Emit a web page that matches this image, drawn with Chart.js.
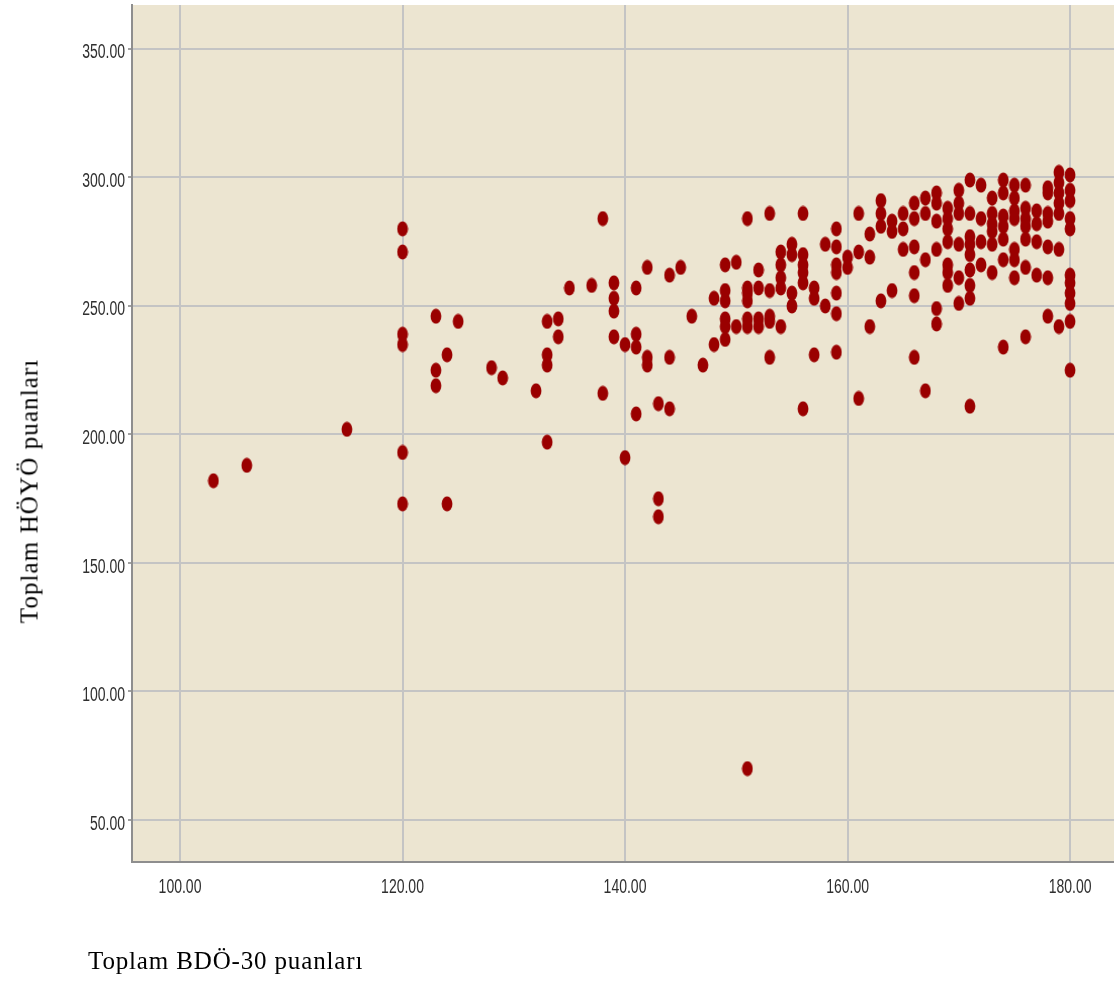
<!DOCTYPE html>
<html>
<head>
<meta charset="utf-8">
<script src="https://cdn.jsdelivr.net/npm/chart.js@4.4.1/dist/chart.umd.min.js"></script>
<style>
  html, body { margin:0; padding:0; background:#ffffff; overflow:hidden; }
  #wrap { position:relative; width:1114px; height:984px; overflow:hidden; }
  canvas { position:absolute; left:0; top:0; }
  .ttl { position:absolute; font-family:"Liberation Serif","Times New Roman",serif; font-size:25px; line-height:25px; color:#000; white-space:nowrap; }
  #xTitle { left:88px; top:948px; letter-spacing:0.85px; }
  #yTitle { left:29px; top:491px; letter-spacing:1.1px; transform:translate(-50%,-50%) rotate(-90deg); }
</style>
</head>
<body>
<div id="wrap">
  <canvas id="c" width="1114" height="984"></canvas>
  <div class="ttl" id="xTitle">Toplam BDÖ-30 puanları</div>
  <div class="ttl" id="yTitle">Toplam HÖYÖ puanları</div>
</div>
<script>
// X: Toplam BDÖ-30 puanları, Y: Toplam HÖYÖ puanları
const xScores = [
  103, 106, 115,
  120,120,120,120,120,120,
  123,123,123, 124,124, 125, 128, 129, 132,
  133,133,133,133, 134,134, 135, 137, 138,138,
  139,139,139,139, 140,140, 141,141,141,141,
  142,142,142, 143,143,143, 144,144,144, 145, 146, 147, 148,148,
  149,149,149,149,149,149, 150,150,
  151,151,151,151,151,151,151,
  152,152,152,152, 153,153,153,153,153,
  154,154,154,154,154, 155,155,155,155,
  156,156,156,156,156,156, 157,157,157, 158,158,
  159,159,159,159,159,159,159, 160,160, 161,161,161, 162,162,162,
  163,163,163,163, 164,164,164, 165,165,165,
  166,166,166,166,166,166, 167,167,167,167,
  168,168,168,168,168,168, 169,169,169,169,169,169,169,
  170,170,170,170,170,170,
  171,171,171,171,171,171,171,171,171,
  172,172,172,172, 173,173,173,173,173,173,
  174,174,174,174,174,174,174, 175,175,175,175,175,175,175,
  176,176,176,176,176,176,176, 177,177,177,177,
  178,178,178,178,178,178,178, 179,179,179,179,179,179,179,
  180,180,180,180,180,180,180,180,180,180,180
];
const yScores = [
  182, 188, 202,
  280,271,239,235,193,173,
  246,225,219, 231,173, 244, 226, 222, 217,
  244,231,227,197, 245,238, 257, 258, 284,216,
  259,253,248,238, 235,191, 257,239,234,208,
  265,230,227, 212,175,168, 262,230,210, 265, 246, 227, 253,235,
  266,256,252,245,242,237, 267,242,
  284,257,255,252,245,242,70,
  264,257,245,242, 286,256,246,244,230,
  271,266,261,257,242, 274,270,255,250,
  286,270,266,263,259,210, 257,253,231, 274,250,
  280,273,266,263,255,247,232, 269,265, 286,271,214, 278,269,242,
  291,286,281,252, 283,279,256, 286,280,272,
  290,284,273,263,254,230, 292,286,268,217,
  294,290,283,272,249,243, 288,284,280,275,266,263,258,
  295,290,286,274,261,251,
  299,286,277,274,270,264,258,253,211,
  297,284,275,266, 292,286,282,279,274,263,
  299,294,285,281,276,268,234, 297,292,287,284,272,268,261,
  297,288,284,281,276,265,238, 287,282,275,262,
  296,294,286,283,273,261,246, 302,298,294,290,286,272,242,
  301,295,291,284,280,262,259,255,251,244,225
];
const xTicks = [100, 120, 140, 160, 180];
const yTicks = [50, 100, 150, 200, 250, 300, 350];

// elliptical marker
const dot = document.createElement('canvas');
dot.width = 12; dot.height = 16;
(function(){
  const g = dot.getContext('2d');
  g.fillStyle = '#9a0000';
  g.beginPath();
  g.ellipse(6, 8, 5.4, 7.6, 0, 0, Math.PI * 2);
  g.fill();
})();

const bgPlugin = {
  id: 'bg',
  beforeDraw(chart) {
    const a = chart.chartArea, g = chart.ctx;
    g.save();
    g.fillStyle = '#ece5d1';
    g.fillRect(a.left, a.top, a.right - a.left, a.bottom - a.top);
    g.restore();
  }
};

// narrow (condensed) tick labels, positioned from the library's scales
const narrowTicks = {
  id: 'narrowTicks',
  afterDraw(chart) {
    const g = chart.ctx, xs = chart.scales.x, ys = chart.scales.y;
    g.save();
    g.font = '20px "Liberation Sans", Arial, sans-serif';
    g.fillStyle = '#2f2f2f';
    g.textBaseline = 'middle';
    xs.ticks.forEach(t => {
      const px = xs.getPixelForValue(t.value);
      g.save();
      g.translate(px, xs.top + 25.5);
      g.scale(0.70, 1);
      g.textAlign = 'center';
      g.fillText(Number(t.value).toFixed(2), 0, 0);
      g.restore();
    });
    ys.ticks.forEach(t => {
      const py = ys.getPixelForValue(t.value);
      g.save();
      g.translate(ys.right - 7, py + 4);
      g.scale(0.70, 1);
      g.textAlign = 'right';
      g.fillText(Number(t.value).toFixed(2), 0, 0);
      g.restore();
    });
    g.restore();
  }
};

const chart = new Chart(document.getElementById('c'), {
  type: 'scatter',
  data: {
    datasets: [{
      data: xScores.map((x, i) => ({ x: x, y: yScores[i] })),
      pointStyle: dot,
      pointRadius: 6,
      backgroundColor: '#9a0000',
      borderWidth: 0
    }]
  },
  options: {
    responsive: false,
    animation: false,
    events: [],
    layout: { autoPadding: false, padding: { top: 5, right: 0, bottom: 0, left: 0 } },
    plugins: { legend: { display: false }, tooltip: { enabled: false } },
    scales: {
      x: {
        type: 'linear',
        min: 95.685, max: 183.95,
        afterBuildTicks: s => { s.ticks = xTicks.map(v => ({ value: v })); },
        afterFit: s => { s.height = 122; s.paddingLeft = 0; s.paddingRight = 0; },
        grid: { color: '#c4c4c4', lineWidth: 2, drawTicks: false },
        border: { color: '#8e8e8e', width: 2 },
        ticks: { display: false }
      },
      y: {
        type: 'linear',
        min: 33.66, max: 367.1,
        afterBuildTicks: s => { s.ticks = yTicks.map(v => ({ value: v })); },
        afterFit: s => { s.width = 132; s.paddingTop = 0; s.paddingBottom = 0; },
        grid: { color: '#c4c4c4', lineWidth: 2, tickLength: 4, tickColor: '#a0a0a0' },
        border: { color: '#8e8e8e', width: 2 },
        ticks: { display: false }
      }
    }
  },
  plugins: [bgPlugin, narrowTicks]
});
</script>
</body>
</html>
